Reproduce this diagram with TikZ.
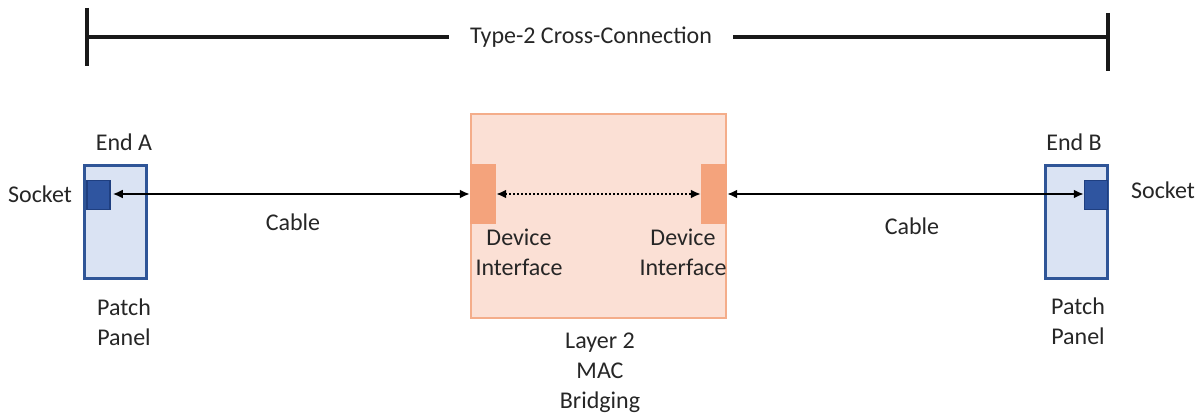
\documentclass[tikz,border=0pt]{standalone}
\usepackage{fontspec}
\setmainfont{Carlito}
\usetikzlibrary{arrows.meta}
\definecolor{panelfill}{HTML}{DAE3F3}
\definecolor{paneldraw}{HTML}{2F5597}
\definecolor{sockfill}{HTML}{2F55A0}
\definecolor{sockdraw}{HTML}{1F3F80}
\definecolor{boxfill}{HTML}{FBE0D5}
\definecolor{boxdraw}{HTML}{F4AD8A}
\definecolor{difill}{HTML}{F4A37C}
\definecolor{txt}{HTML}{262626}
\begin{document}
\begin{tikzpicture}[x=1pt,y=-1pt,
  lbl/.style={font=\fontsize{24}{30}\selectfont, text=txt, align=center, inner sep=0pt},
  panel/.style={draw=paneldraw, fill=panelfill, line width=3pt, minimum width=62pt, minimum height=113pt, inner sep=0pt},
  sock/.style={draw=sockdraw, fill=sockfill, line width=1.5pt, minimum width=23pt, minimum height=29pt, inner sep=0pt},
  bigbox/.style={draw=boxdraw, fill=boxfill, line width=2pt, minimum width=255pt, minimum height=204pt, inner sep=0pt},
  difc/.style={fill=difill, minimum width=26pt, minimum height=59pt, inner sep=0pt},
  cable/.style={{Latex[length=10pt,width=9pt]}-{Latex[length=10pt,width=9pt]}, line width=2pt, black},
  dotcable/.style={{Latex[length=10pt,width=9pt]}-{Latex[length=10pt,width=9pt]}, line width=2pt, black, dash pattern=on 2pt off 2pt},
  bar/.style={line width=3.5pt, black!90}
]
\useasboundingbox (0,0) rectangle (1201,414);

% span bar
\node[lbl, inner xsep=21pt] (title) at (591,37) {Type-2 Cross-Connection};
\coordinate (tl) at (87,37);
\coordinate (tr) at (1108,37);
\coordinate (tlt) at (87,8);
\coordinate (tlb) at (87,66);
\coordinate (trt) at (1108,13);
\coordinate (trb) at (1108,71);
\draw[bar] (tlt) -- (tlb);
\draw[bar] (trt) -- (trb);
\draw[bar] (tl) -- (title.west);
\draw[bar] (title.east) -- (tr);

% left patch panel
\node[panel] (panelA) at (115,222) {};
\node[sock] (sockA) at (98.5,195) {};
\node[lbl] (endA) at (124,142) {End A};
\node[lbl, anchor=center] (sockAl) at (40,194) {Socket};
\node[lbl] (ppA) at (124,322) {Patch\\Panel};

% center box
\node[bigbox] (box) at (598.5,216) {};
\node[difc] (diL) at (483,194) {};
\node[difc] (diR) at (714,194) {};
\node[lbl] (diLl) at (519,252) {Device\\Interface};
\node[lbl] (diRl) at (683,252) {Device\\Interface};
\node[lbl] (l2) at (600,373) {Layer 2\\MAC\\Bridging};

% right patch panel
\node[panel] (panelB) at (1076.5,222) {};
\node[sock] (sockB) at (1096,195) {};
\node[lbl] (endB) at (1074,142) {End B};
\node[lbl] (sockBl) at (1163,190) {Socket};
\node[lbl] (ppB) at (1078,321) {Patch\\Panel};

% cables
\node[lbl] (cabA) at (293,222) {Cable};
\node[lbl] (cabB) at (912,226) {Cable};
\draw[cable, shorten <=2pt] (sockA.east |- diL.west) -- (diL.west);
\draw[dotcable] (diL.east) -- (diR.west);
\draw[cable] (diR.east) -- (sockB.west |- diR.east);
\end{tikzpicture}
\end{document}
